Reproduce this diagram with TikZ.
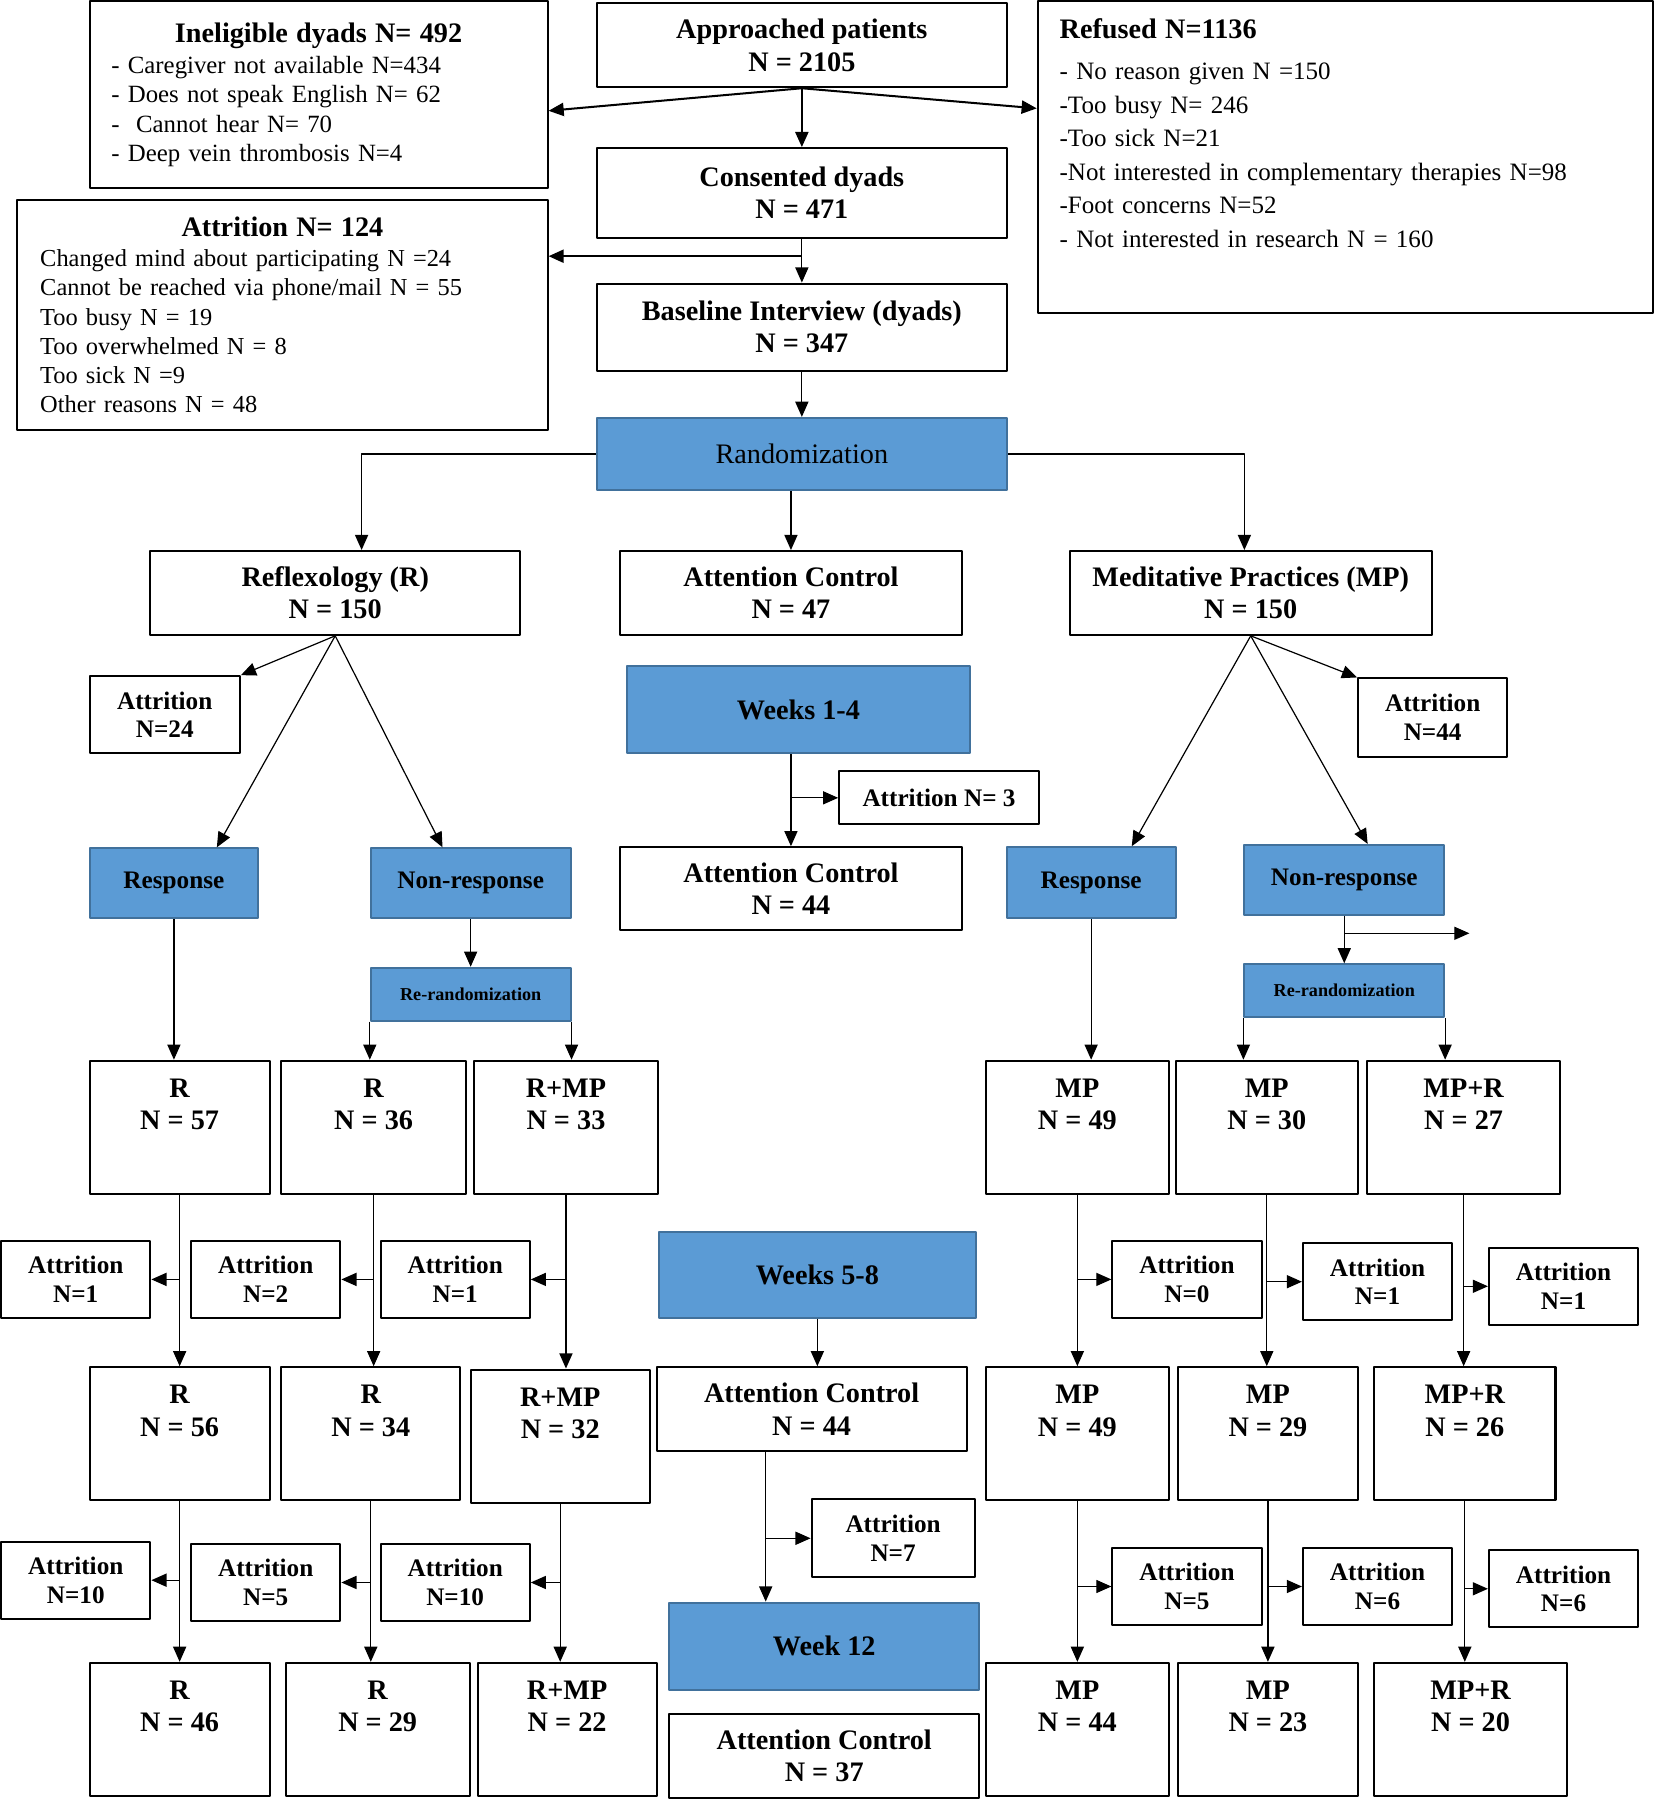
\documentclass[tikz,border=0pt]{standalone}
\usepackage{fontspec}
\setmainfont{Liberation Serif}
\usetikzlibrary{arrows.meta,calc}
\setlength\parindent{0pt}
\definecolor{rblue}{HTML}{5B9BD5}
\definecolor{rblueD}{HTML}{41719C}
\newcommand\ttlfont{\fontsize{14}{16}\selectfont\bfseries}
\tikzset{
  wh/.style 2 args={minimum width=#1*0.02cm, minimum height=#2*0.02cm},
  wbox/.style={draw, line width=1pt, fill=white, align=center, inner sep=1pt, font=\ttlfont},
  bbox/.style={wbox, fill=rblue, draw=rblueD},
  bsm/.style={bbox, font=\fontsize{12.5}{14.2}\selectfont\bfseries},
  brr/.style={bbox, font=\fontsize{9}{11}\selectfont\bfseries},
  abox/.style={wbox, font=\fontsize{12.5}{14.2}\selectfont\bfseries},
  tall/.style={wbox, minimum height=116*0.02cm},
  lbox/.style={draw, line width=1pt, align=left, inner xsep=0.38cm, inner ysep=1pt},
  conn/.style={->, line width=0.6pt},
  thk/.style={->, line width=1pt},
}
\begin{document}
\begin{tikzpicture}[x=0.02cm, y=-0.02cm, >={Triangle[length=7.5pt,width=6.5pt]}, line join=round]
\useasboundingbox (0,0) rectangle (1442,1568);

% enrolment
\node[lbox, wh={399}{163}, text width=7.22cm, font=\fontsize{12.3}{14.6}\selectfont] (inel) at (277.5,82.5)
  {\makebox[\hsize]{\ttlfont Ineligible dyads N= 492}\\[0.8pt]
   - Caregiver not available N=434\\
   - Does not speak English N= 62\\
   -~ Cannot hear N= 70\\
   - Deep vein thrombosis N=4\\[-12pt]
   \mbox{}};
\node[lbox, wh={536}{272}, text width=9.96cm, font=\fontsize{12.4}{16.6}\selectfont] (ref) at (1172,137)
  {{\ttlfont Refused N=1136}\\[3.9pt]
   - No reason given N =150\\
   -Too busy N= 246\\
   -Too sick N=21\\
   -Not interested in complementary therapies N=98\\
   -Foot concerns N=52\\
   - Not interested in research N = 160\\[7.4pt]
   \mbox{}};
\node[lbox, wh={462}{201}, text width=8.44cm, inner xsep=0.4cm, font=\fontsize{12.1}{14.5}\selectfont] (attr0) at (246,274.5)
  {\makebox[\hsize]{\ttlfont Attrition N= 124}\\[0.3pt]
   Changed mind about participating N =24\\
   Cannot be reached via phone/mail N = 55\\
   Too busy N = 19\\
   Too overwhelmed N = 8\\
   Too sick N =9\\
   Other reasons N = 48};
\node[wbox, wh={357}{73}] (appr) at (698.5,39.5) {Approached patients\\N = 2105};
\node[wbox, wh={357}{78}] (cons) at (698.5,168) {Consented dyads\\N = 471};
\node[wbox, wh={357}{76}] (base) at (698.5,285) {Baseline Interview (dyads)\\N = 347};
\node[bbox, wh={357}{63}, font=\fontsize{14}{16}\selectfont] (rand) at (698.5,395.5) {Randomization};

\draw[thk] (appr.south) -- (cons.north);
\draw[thk] (appr.south) -- (inel.-4.4);
\draw[thk] (appr.south) -- (ref.171.7);
\draw[conn] (cons.south) -- (base.north);
\draw[thk] ($(cons.south)!.4!(base.north)$) coordinate (cb) -- (cb -| attr0.east);
\draw[conn] (base.south) -- (rand.north);

% arms
\node[wbox, wh={322}{73}] (refl) at (292,516.5) {Reflexology (R)\\N = 150};
\node[wbox, wh={298}{73}] (ac47) at (689,516.5) {Attention Control\\N = 47};
\node[wbox, wh={315}{73}] (medi) at (1089.5,516.5) {Meditative Practices (MP)\\N = 150};
\draw[conn] (rand.west) -| ([xshift=0.46cm]refl.north);
\draw[conn] (rand.south -| ac47.north) -- (ac47.north);
\draw[conn] (rand.east) -| ([xshift=-0.11cm]medi.north);

% weeks 1-4
\node[abox, wh={131}{67}] (att24) at (143.5,622.5) {Attrition\\N=24};
\node[bsm, wh={147}{61}] (respR) at (151.5,769.5) {Response};
\node[bsm, wh={174}{61}] (nonR) at (410,769.5) {Non-response};
\node[brr, wh={174}{46}] (rrR) at (410,866) {Re-randomization};
\node[bbox, wh={299}{76}] (wk14) at (695.5,618) {Weeks 1-4};
\node[abox, wh={174}{46}] (att3) at (818,695) {Attrition N= 3};
\node[wbox, wh={298}{72}] (ac44) at (689,774) {Attention Control\\N = 44};
\node[abox, wh={130}{68}] (att44) at (1248,625) {Attrition\\N=44};
\node[bsm, wh={147}{62}] (respM) at (950.5,769) {Response};
\node[bsm, wh={174}{61}] (nonM) at (1171,766.5) {Non-response};
\node[brr, wh={174}{46}] (rrM) at (1171,863) {Re-randomization};
\coordinate (nmx) at (1280,813);

\draw[conn] (refl.south) -- (att24.north east);
\draw[conn] (refl.south) -- (respR.40);
\draw[conn] (refl.south) -- (nonR.128);
\draw[conn] (nonR.south) -- (rrR.north);
\draw[conn] (wk14.south -| ac44.north) -- (ac44.north);
\draw[conn] (ac44.north |- att3.west) -- (att3.west);
\draw[conn] (medi.south) -- (respM.42);
\draw[conn] (medi.south) -- (nonM.57);
\draw[conn] (medi.south) -- (att44.north west);
\draw[conn] (nonM.south) -- (rrM.north);
\draw[conn] (nmx -| nonM.south) -- (nmx);

% groups after weeks 1-4, 5-8 and 12
\foreach \nm/\x/\y/\w/\t/\n in {r57/156.5/982/157/R/57, r36/325.5/982/161/R/36, rm33/493/982/160/R+MP/33,
    mp49/938.5/982/159/MP/49, mp30/1103.5/982/159/MP/30, mr27/1275/982/168/MP+R/27,
    r56/156.5/1249/157/R/56, r34/323/1249/156/R/34, rm32/488/1251/156/R+MP/32,
    mp49b/938.5/1249/159/MP/49, mp29/1104.5/1249/157/MP/29, mr26/1276/1249/158/MP+R/26,
    r46/156.5/1506.5/157/R/46, r29/329/1506.5/160/R/29, rm22/494/1506.5/156/R+MP/22,
    mp44/938.5/1506.5/159/MP/44, mp23/1104.5/1506.5/157/MP/23, mr20/1281/1506.5/168/MP+R/20}
  \node[tall, minimum width=\w*0.02cm] (\nm) at (\x,\y) {\t\\N = \n\\[7pt]\mbox{}};

\foreach \nm/\x/\y/\n in {a1/66/1114.5/1, a2/231.5/1114.5/2, a3/396.5/1114.5/1,
    a4/1034/1114.5/0, a5/1200/1116.5/1, a6/1362/1120.5/1,
    b1/66/1376.5/10, b2/231.5/1378.5/5, b3/396.5/1378.5/10,
    b4/1034/1382/5, b5/1200/1382/6, b6/1362/1384/6}
  \node[abox, wh={130}{67}] (\nm) at (\x,\y) {Attrition\\N=\n};

\draw[conn] (respR.south) -- (respR.south |- r57.north);
\draw[conn] (rrR.south west) -- (rrR.south west |- r36.north);
\draw[conn] (rrR.south east) -- (rrR.south east |- rm33.north);
\draw[conn] (respM.south) -- (respM.south |- mp49.north);
\draw[conn] (rrM.south west) -- (rrM.south west |- mp30.north);
\draw[conn] (rrM.south east) -- (rrM.south east |- mr27.north);

\foreach \a/\b/\c in {r57/r56/a1, r36/r34/a2, rm33/rm32/a3, r56/r46/b1, r34/r29/b2, rm32/rm22/b3} {
  \draw[conn] (\a.south) -- (\a.south |- \b.north);
  \draw[conn] (\a.south |- \c.east) -- (\c.east);
}
\foreach \a/\b/\c in {mp49/mp49b/a4, mp30/mp29/a5, mr27/mr26/a6, mp49b/mp44/b4, mp29/mp23/b5, mr26/mr20/b6} {
  \draw[conn] (\a.south) -- (\a.south |- \b.north);
  \draw[conn] (\a.south |- \c.west) -- (\c.west);
}

% attention control
\node[bbox, wh={276}{75}] (wk58) at (712,1110.5) {Weeks 5-8};
\node[wbox, wh={270}{73}] (ac44b) at (707,1227.5) {Attention Control\\N = 44};
\node[abox, wh={142}{68}] (att7) at (778,1340) {Attrition\\N=7};
\node[bbox, wh={270}{76}] (wk12) at (718,1434) {Week 12};
\node[wbox, wh={270}{73}] (ac37) at (718,1529.5) {Attention Control\\N = 37};
\coordinate (acl) at ([xshift=-0.8cm]ac44b.south);
\draw[conn] (wk58.south) -- (wk58.south |- ac44b.north);
\draw[conn] (acl) -- (acl |- wk12.north);
\draw[conn] (acl |- att7.west) -- (att7.west);
\end{tikzpicture}
\end{document}
